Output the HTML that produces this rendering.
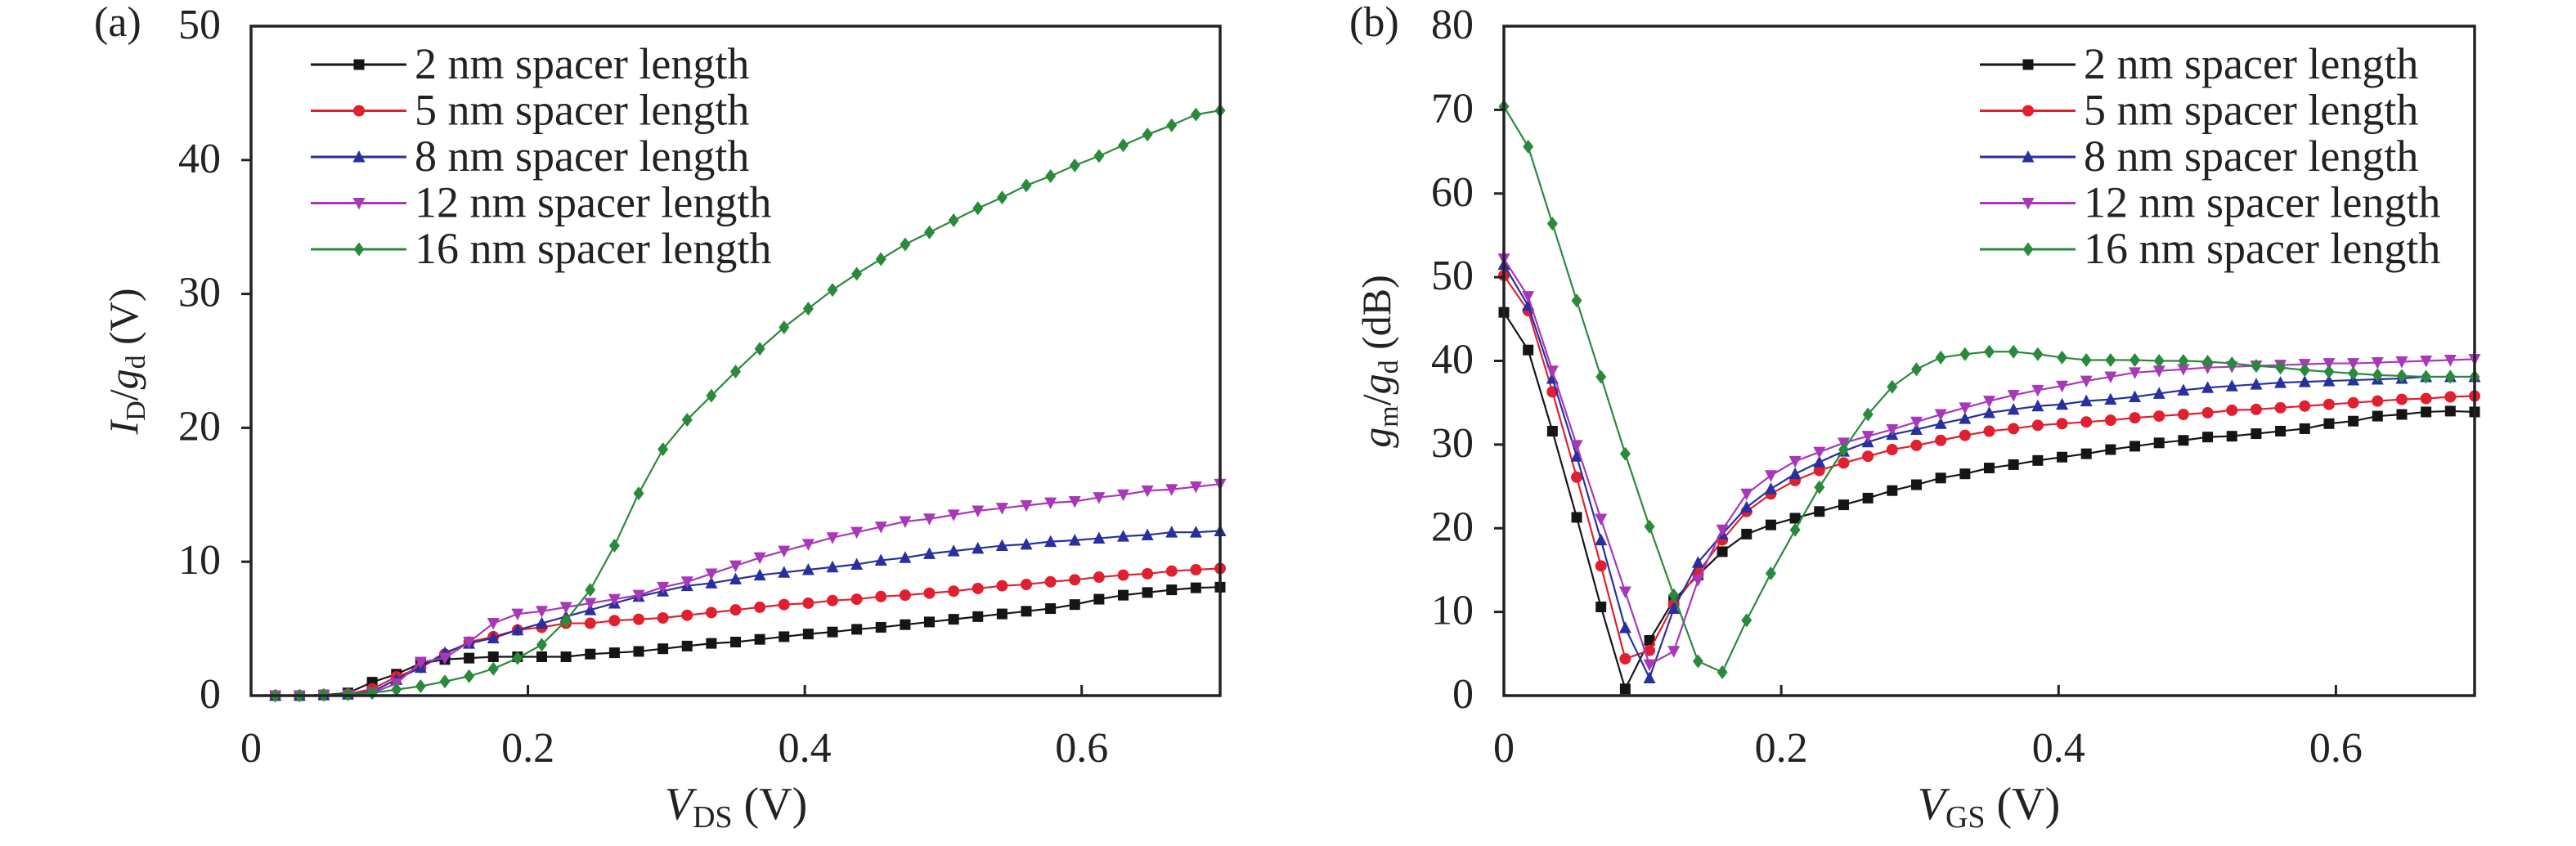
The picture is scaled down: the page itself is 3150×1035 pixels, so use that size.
<!DOCTYPE html>
<html><head><meta charset="utf-8"><style>
html,body{margin:0;padding:0;background:#fff;}
svg{display:block;font-family:"Liberation Serif",serif;}
</style></head>
<body>
<svg id="fig" width="3150" height="1035" viewBox="0 0 3150 1035" xmlns="http://www.w3.org/2000/svg">
<g id="pa"></g>
<g id="pb"></g>
</svg>
<script>
// Panel (a): I_D/g_d vs V_DS, x = 0.0175*i, i=1..40
const aStep = 0.0175;
const aBlack = [0,0,0.05,0.2,1.0,1.6,2.4,2.7,2.8,2.9,2.9,2.9,2.9,3.1,3.2,3.3,3.5,3.7,3.9,4.0,4.2,4.4,4.6,4.75,4.95,5.1,5.3,5.5,5.7,5.9,6.1,6.3,6.5,6.8,7.2,7.5,7.7,7.9,8.05,8.1];
const aRed = [0,0,0.05,0.1,0.5,1.4,2.1,3.1,4.0,4.4,4.9,5.1,5.4,5.4,5.6,5.7,5.8,6.0,6.2,6.4,6.6,6.8,6.9,7.1,7.2,7.4,7.5,7.65,7.8,8.0,8.2,8.3,8.5,8.65,8.85,9.0,9.1,9.3,9.4,9.5];
const aBlue = [0,0,0.05,0.1,0.3,1.2,2.1,3.2,3.9,4.3,4.9,5.4,5.9,6.4,6.9,7.4,7.8,8.2,8.4,8.7,9.0,9.2,9.4,9.6,9.8,10.1,10.3,10.6,10.8,11.0,11.2,11.3,11.5,11.6,11.75,11.9,12.0,12.2,12.2,12.3];
const aMag = [0,0,0.02,0.05,0.2,0.9,2.5,2.8,4.0,5.4,6.1,6.3,6.6,6.9,7.2,7.5,8.1,8.5,9.1,9.7,10.3,10.8,11.3,11.8,12.2,12.6,13.0,13.2,13.5,13.8,14.0,14.2,14.4,14.5,14.8,15.0,15.3,15.4,15.6,15.8];
const aGreen = [0,0,0.05,0.1,0.2,0.45,0.7,1.05,1.45,2.0,2.8,3.8,5.6,7.9,11.2,15.1,18.4,20.6,22.4,24.2,25.9,27.5,28.9,30.3,31.5,32.6,33.7,34.6,35.5,36.4,37.2,38.1,38.8,39.6,40.3,41.1,41.9,42.6,43.4,43.7];
// Panel (b): g_m/g_d vs V_GS, x = 0.0175*i, i=0..40
const bStep = 0.0175;
const bBlack = [45.8,41.3,31.6,21.3,10.6,0.8,6.6,11.4,14.4,17.2,19.3,20.4,21.2,22.0,22.8,23.6,24.5,25.2,26.0,26.5,27.2,27.6,28.1,28.5,28.9,29.4,29.8,30.2,30.5,30.9,31.0,31.3,31.6,31.9,32.5,32.8,33.4,33.6,33.9,34.0,33.9];
const bRed = [50.2,46.0,36.3,26.1,15.5,4.4,5.4,10.9,14.7,18.6,22.0,24.1,25.7,26.9,27.8,28.6,29.4,29.9,30.5,31.1,31.6,31.9,32.3,32.5,32.7,32.9,33.2,33.4,33.6,33.8,34.1,34.2,34.4,34.6,34.8,35.0,35.2,35.4,35.5,35.7,35.8];
const bBlue = [51.5,46.6,37.9,28.6,18.6,8.1,2.1,10.4,15.9,19.3,22.5,24.7,26.5,27.9,29.2,30.3,31.2,31.8,32.5,33.1,33.8,34.2,34.6,34.8,35.2,35.4,35.7,36.1,36.5,36.8,37.0,37.2,37.4,37.5,37.6,37.7,37.8,37.9,38.1,38.1,38.1];
const bMag = [52.2,47.7,38.8,29.9,21.1,12.4,3.7,5.3,13.8,19.8,24.1,26.3,28.0,29.1,30.2,31.0,31.8,32.7,33.6,34.4,35.2,35.9,36.5,37.0,37.6,38.1,38.6,38.8,39.0,39.2,39.3,39.4,39.5,39.6,39.7,39.7,39.8,39.9,40.0,40.1,40.2];
const bGreen = [70.4,65.6,56.4,47.2,38.1,28.9,20.2,12.0,4.1,2.8,9.0,14.6,19.8,24.9,29.4,33.6,36.9,39.0,40.4,40.8,41.1,41.1,40.8,40.4,40.1,40.1,40.1,40.0,40.0,39.9,39.7,39.4,39.2,38.9,38.7,38.5,38.3,38.2,38.1,38.1,38.1];
const xTicks = [0,0.2,0.4,0.6];
const xTickLabels = ["0","0.2","0.4","0.6"];
const aYTicks = [0,10,20,30,40,50];
const bYTicks = [0,10,20,30,40,50,60,70,80];
const seriesNames = ["2 nm spacer length","5 nm spacer length","8 nm spacer length","12 nm spacer length","16 nm spacer length"];

const NS = "http://www.w3.org/2000/svg";
const colors = ["#151515","#e02030","#2830a0","#a838b8","#2a8a3c"];
const shapes = ["square","circle","up","down","diamond"];
const slugs = ["2nm","5nm","8nm","12nm","16nm"];

function mk(tag, attrs, parent){
  const e = document.createElementNS(NS, tag);
  for (const k in attrs) e.setAttribute(k, attrs[k]);
  parent.appendChild(e);
  return e;
}
function marker(shape, x, y, col, parent){
  const s = 6.5;
  let e;
  if (shape === "square") e = mk("rect",{x:x-s,y:y-s,width:2*s,height:2*s,fill:col},parent);
  else if (shape === "circle") e = mk("circle",{cx:x,cy:y,r:s+0.5,fill:col},parent);
  else if (shape === "up") e = mk("polygon",{points:`${x},${y-s-1.5} ${x+s+1},${y+s} ${x-s-1},${y+s}`,fill:col},parent);
  else if (shape === "down") e = mk("polygon",{points:`${x},${y+s+1.5} ${x+s+1},${y-s} ${x-s-1},${y-s}`,fill:col},parent);
  else e = mk("polygon",{points:`${x},${y-s-2} ${x+s},${y} ${x},${y+s+2} ${x-s},${y}`,fill:col},parent);
  return e;
}

function panel(g, cfg){
  const L=cfg.L,R=cfg.R,T=32,B=851;
  const xs = v => L + v/0.7*(R-L);
  const ys = v => B - v/cfg.ymax*(B-T);
  cfg.series.forEach((vals, k) => {
    const sg = mk("g",{},g);
    
    
    const pts = vals.map((v,i)=>[xs((i+cfg.i0)*cfg.step), ys(v)]);
    const pl = mk("polyline",{points:pts.map(p=>p.join(",")).join(" "),fill:"none",stroke:colors[k],"stroke-width":2.2,"stroke-linejoin":"round"},sg);
    
    
    pts.forEach(p => {
      const m = marker(shapes[k], p[0], p[1], colors[k], sg);
      
      
    });
  });
  const fr = mk("rect",{x:L,y:T,width:R-L,height:B-T,fill:"none",stroke:"#222","stroke-width":3.5},g);
  
  
  xTicks.forEach((v,i) => {
    const x = xs(v);
    if (v>0) mk("line",{x1:x,y1:B,x2:x,y2:B-13,stroke:"#222","stroke-width":3},g);
    const t = mk("text",{x:x,y:932,"text-anchor":"middle","font-size":52,fill:"#222"},g);
    t.textContent = xTickLabels[i];
    
    
  });
  cfg.yTicks.forEach(v => {
    const y = ys(v);
    if (v>0 && v<cfg.ymax) mk("line",{x1:L-12,y1:y,x2:L,y2:y,stroke:"#222","stroke-width":3},g);
    const t = mk("text",{x:cfg.labR,y:y+15,"text-anchor":"end","font-size":52,fill:"#222"},g);
    t.textContent = String(v);
    
    
  });
  seriesNames.forEach((name,k) => {
    const y = 79 + k*56.5;
    const lg = mk("g",{},g);
    
    
    mk("line",{x1:cfg.legX,y1:y,x2:cfg.legX+117,y2:y,stroke:colors[k],"stroke-width":3},lg);
    marker(shapes[k], cfg.legX+59, y, colors[k], lg);
    const t = mk("text",{x:cfg.legX+127,y:y+17,"font-size":54,fill:"#222"},lg);
    t.textContent = name;
  });
}

panel(document.getElementById("pa"), {L:307,R:1492,ymax:50,yTicks:aYTicks,labR:270,legX:380,step:aStep,i0:1,
  series:[aBlack,aRed,aBlue,aMag,aGreen]});
panel(document.getElementById("pb"), {L:1839,R:3026,ymax:80,yTicks:bYTicks,labR:1802,legX:2421,step:bStep,i0:0,
  series:[bBlack,bRed,bBlue,bMag,bGreen]});
</script>
<svg style="position:absolute;left:0;top:0" width="3150" height="1035" xmlns="http://www.w3.org/2000/svg" font-family="Liberation Serif, serif" fill="#222">
<text x="115" y="44" font-size="52">(a)</text>
<text x="1650" y="44" font-size="52">(b)</text>
<text x="900" y="1002" text-anchor="middle" font-size="56"><tspan font-style="italic">V</tspan><tspan font-size="38" dy="10">DS</tspan><tspan dy="-10"> (V)</tspan></text>
<text x="2432" y="1002" text-anchor="middle" font-size="56"><tspan font-style="italic">V</tspan><tspan font-size="38" dy="10">GS</tspan><tspan dy="-10"> (V)</tspan></text>
<text transform="translate(168,442) rotate(-90)" text-anchor="middle" font-size="50"><tspan font-style="italic">I</tspan><tspan font-size="34" dy="9">D</tspan><tspan dy="-9">/</tspan><tspan font-style="italic">g</tspan><tspan font-size="34" dy="9">d</tspan><tspan dy="-9"> (V)</tspan></text>
<text transform="translate(1700,442) rotate(-90)" text-anchor="middle" font-size="50"><tspan font-style="italic">g</tspan><tspan font-size="34" dy="9">m</tspan><tspan dy="-9">/</tspan><tspan font-style="italic">g</tspan><tspan font-size="34" dy="9">d</tspan><tspan dy="-9"> (dB)</tspan></text>
</svg>
</body></html>
